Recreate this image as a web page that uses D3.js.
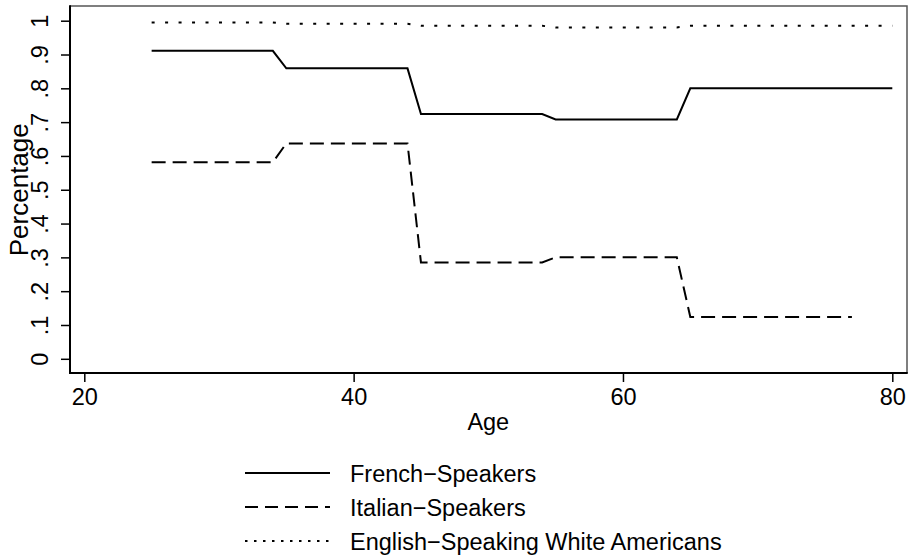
<!DOCTYPE html>
<html><head><meta charset="utf-8">
<script src="https://cdn.jsdelivr.net/npm/d3@7"></script>
<style>body{margin:0;background:#fff;}svg{display:block;font-family:"Liberation Sans",Arial,sans-serif;}</style>
</head><body>
<svg id="c" width="909" height="559"></svg>
<script>
const agesFull = [25,26,27,28,29,30,31,32,33,34,35,36,37,38,39,40,41,42,43,44,45,46,47,48,49,50,51,52,53,54,55,56,57,58,59,60,61,62,63,64,65,66,67,68,69,70,71,72,73,74,75,76,77,78,79,80];
const agesItalian = [25,26,27,28,29,30,31,32,33,34,35,36,37,38,39,40,41,42,43,44,45,46,47,48,49,50,51,52,53,54,55,56,57,58,59,60,61,62,63,64,65,66,67,68,69,70,71,72,73,74,75,76,77];
const french = [0.911,0.911,0.911,0.911,0.911,0.911,0.911,0.911,0.911,0.911,
  0.859,0.859,0.859,0.859,0.859,0.859,0.859,0.859,0.859,0.859,
  0.724,0.724,0.724,0.724,0.724,0.724,0.724,0.724,0.724,0.724,
  0.708,0.708,0.708,0.708,0.708,0.708,0.708,0.708,0.708,0.708,
  0.800,0.800,0.800,0.800,0.800,0.800,0.800,0.800,0.800,0.800,0.800,0.800,0.800,0.800,0.800,0.800];
const italian = [0.581,0.581,0.581,0.581,0.581,0.581,0.581,0.581,0.581,0.581,
  0.637,0.637,0.637,0.637,0.637,0.637,0.637,0.637,0.637,0.637,
  0.285,0.285,0.285,0.285,0.285,0.285,0.285,0.285,0.285,0.285,
  0.300,0.300,0.300,0.300,0.300,0.300,0.300,0.300,0.300,0.300,
  0.124,0.124,0.124,0.124,0.124,0.124,0.124,0.124,0.124,0.124,0.124,0.124,0.124];
const english = [0.995,0.995,0.995,0.995,0.995,0.995,0.995,0.995,0.995,0.995,
  0.991,0.991,0.991,0.991,0.991,0.991,0.991,0.991,0.991,0.991,
  0.985,0.985,0.985,0.985,0.985,0.985,0.985,0.985,0.985,0.985,
  0.980,0.980,0.980,0.980,0.980,0.980,0.980,0.980,0.980,0.980,
  0.985,0.985,0.985,0.985,0.985,0.985,0.985,0.985,0.985,0.985,0.985,0.985,0.985,0.985,0.985,0.985];
const xTicks = [20,40,60,80];
const yTicks = [0,0.1,0.2,0.3,0.4,0.5,0.6,0.7,0.8,0.9,1];
const yTickLabels = ["0",".1",".2",".3",".4",".5",".6",".7",".8",".9","1"];
const seriesNames = ["French\u2212Speakers","Italian\u2212Speakers","English\u2212Speaking White Americans"];

const svg = d3.select("#c");
const frame = {l:70, r:907, t:6, b:373};
const x = d3.scaleLinear().domain([20,80]).range([84.3,892.3]);
const y = d3.scaleLinear().domain([0,1]).range([358.8,20.7]);
const FS = 23.5;

svg.append("path").attr("d",`M${frame.l},${frame.t}H${frame.r}V${frame.b}`)
  .attr("fill","none").attr("stroke","#555").attr("stroke-width",1.5);

const series = [
  {ages:agesFull, vals:french, dash:null},
  {ages:agesItalian, vals:italian, dash:"14,7"},
  {ages:agesFull, vals:english, dash:"3,10.47"}
];
const line = d3.line().x(d=>x(d[0])).y(d=>y(d[1]));
series.forEach(s=>{
  svg.append("path").datum(s.ages.map((a,i)=>[a,s.vals[i]]))
    .attr("d",line).attr("fill","none").attr("stroke","#000")
    .attr("stroke-width",2).attr("stroke-dasharray",s.dash);
});

const yAxis = d3.axisLeft(y).tickValues(yTicks).tickSize(9).tickFormat((d,i)=>yTickLabels[i]);
const gy = svg.append("g").attr("transform",`translate(${frame.l},0)`).call(yAxis);
gy.select(".domain").remove();
gy.selectAll(".tick line").attr("stroke","#000").attr("stroke-width",1.5);
gy.selectAll(".tick text").attr("font-size",FS).attr("fill","#000")
  .attr("text-anchor","middle").attr("dy",null).attr("x",null)
  .attr("transform","translate(-22,0) rotate(-90)");

const xAxis = d3.axisBottom(x).tickValues(xTicks).tickSize(9).tickFormat(d3.format("d"));
const gx = svg.append("g").attr("transform",`translate(0,${frame.b})`).call(xAxis);
gx.select(".domain").remove();
gx.selectAll(".tick line").attr("stroke","#000").attr("stroke-width",1.5);
gx.selectAll(".tick text").attr("font-size",FS).attr("fill","#000").attr("dy",null).attr("y",32);

svg.append("line").attr("x1",frame.l).attr("x2",frame.l).attr("y1",frame.t-0.75).attr("y2",frame.b+1)
  .attr("stroke","#000").attr("stroke-width",2);
svg.append("line").attr("x1",frame.l-1).attr("x2",frame.r+0.75).attr("y1",frame.b).attr("y2",frame.b)
  .attr("stroke","#000").attr("stroke-width",2);

svg.append("text").attr("x",(x(20)+x(80))/2).attr("y",430).attr("text-anchor","middle")
  .attr("font-size",FS).text("Age");
svg.append("text").attr("transform",`translate(28,${(y(0)+y(1))/2}) rotate(-90)`)
  .attr("text-anchor","middle").attr("font-size",26).text("Percentage");

const legY = [473,507,541];
series.forEach((s,i)=>{
  svg.append("line").attr("x1",245).attr("x2",330).attr("y1",legY[i]).attr("y2",legY[i])
    .attr("stroke","#000").attr("stroke-width",2)
    .attr("stroke-dasharray", i===1?"13,7":(i===2?"2.5,6.5":null));
  svg.append("text").attr("x",350).attr("y",legY[i]+8.5).attr("font-size",FS).text(seriesNames[i]);
});
</script>
</body></html>
